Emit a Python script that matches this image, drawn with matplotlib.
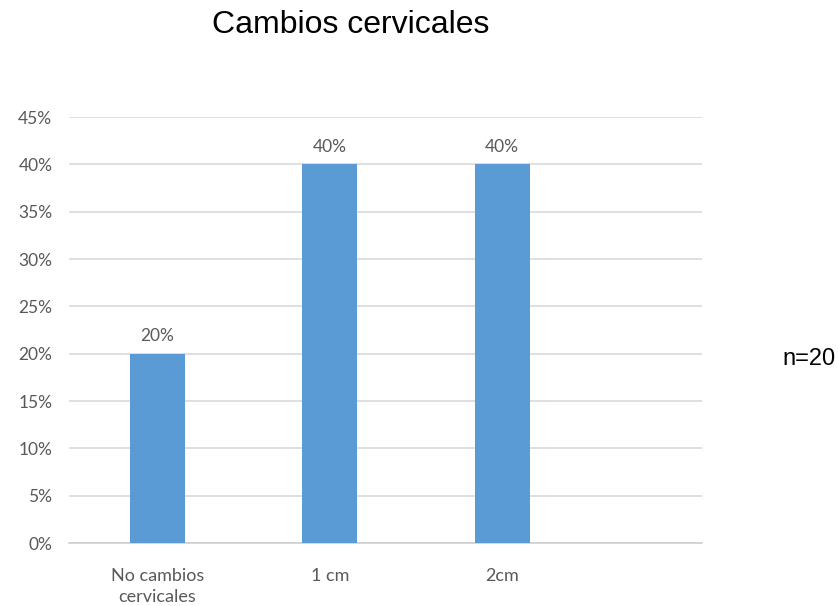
import matplotlib
matplotlib.use("Agg")
import matplotlib.pyplot as plt
from matplotlib.ticker import FuncFormatter, MultipleLocator

categories = ["No cambios\ncervicales", "1 cm", "2cm"]
values = [20, 40, 40]
value_labels = ["20%", "40%", "40%"]
title = "Cambios cervicales"
note = "n=20"

W, H = 838, 606
fig = plt.figure(figsize=(W / 100, H / 100), dpi=100)
ax = fig.add_axes([69 / W, (H - 543) / H, (702 - 69) / W, (543 - 117) / H])

x = list(range(len(categories)))
bars = ax.bar(x, values, width=0.32, color="#5b9bd5", zorder=3)

ax.set_ylim(0, 45)
ax.set_xlim(-0.513, 3.16)
ax.yaxis.set_major_locator(MultipleLocator(5))
ax.yaxis.set_major_formatter(FuncFormatter(lambda v, p: f"{int(round(v))}%"))
ax.set_xticks(x)
ax.set_xticklabels(categories, fontfamily="Lato", fontsize=13, color="#595959",
                   linespacing=1.35)
for lab in ax.get_yticklabels():
    lab.set_fontfamily("Lato")
    lab.set_fontsize(12.5)
    lab.set_color("#595959")
ax.tick_params(axis="both", length=0)
ax.tick_params(axis="y", pad=12)
ax.tick_params(axis="x", pad=18)

ax.grid(axis="y", color="#d9d9d9", linewidth=1.2, zorder=0)
for s in ["top", "right", "left"]:
    ax.spines[s].set_visible(False)
ax.spines["bottom"].set_color("#d0d0d0")
ax.spines["bottom"].set_linewidth(1.2)

for b, lbl in zip(bars, value_labels):
    ax.annotate(lbl, (b.get_x() + b.get_width() / 2, b.get_height()),
                xytext=(0, 7), textcoords="offset points", ha="center", va="bottom",
                fontfamily="Lato", fontsize=12.5, color="#595959")

fig.text(351 / W, 1 - 33 / H, title, ha="center", va="baseline",
         fontfamily="Liberation Sans", fontsize=23, color="black")
fig.text(809 / W, 1 - 365 / H, note, ha="center", va="baseline",
         fontfamily="Liberation Sans", fontsize=17, color="black")

fig.savefig("out.png", dpi=100)
